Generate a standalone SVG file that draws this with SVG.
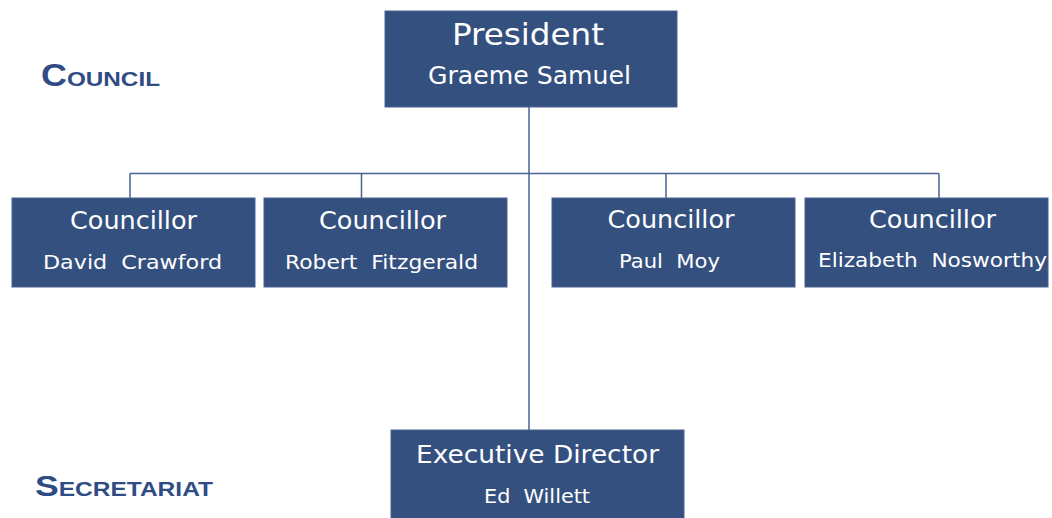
<svg xmlns="http://www.w3.org/2000/svg" width="1052" height="518" viewBox="0 0 1052 518">
<style>
.box{fill:#34507F;stroke:#4A6294;stroke-width:1}
.t{fill:#FFFFFF;font-family:"DejaVu Sans","Liberation Sans",sans-serif;text-anchor:middle}
.big{font-size:24px}
.nm{font-size:19px;white-space:pre}
.lbl{fill:#2F4C85;font-family:"Liberation Sans",Arial,sans-serif;font-weight:bold}
.ln{stroke:#4A6294;stroke-width:1.5;fill:none}
</style>
<rect width="1052" height="518" fill="#FFFFFF"/>
<g id="labels">
<text class="lbl" x="41" y="86" font-size="21" textLength="119" lengthAdjust="spacingAndGlyphs"><tspan font-size="31">C</tspan>OUNCIL</text>
<text class="lbl" x="35" y="496" font-size="20" textLength="178" lengthAdjust="spacingAndGlyphs"><tspan font-size="29">S</tspan>ECRETARIAT</text>
</g>
<g id="connectors">
<path class="ln" d="M529,107 V430"/>
<path class="ln" d="M130,173.5 H939"/>
<path class="ln" d="M130,173.5 V198 M361.5,173.5 V198 M666,173.5 V198 M939,173.5 V198"/>
</g>
<g id="president">
<rect class="box" x="385" y="11" width="292" height="96"/>
<text class="t" x="528" y="45" font-size="31" textLength="152" lengthAdjust="spacingAndGlyphs">President</text>
<text class="t big" x="529.5" y="84" textLength="203" lengthAdjust="spacingAndGlyphs">Graeme Samuel</text>
</g>
<g id="c1">
<rect class="box" x="12" y="198" width="243" height="89"/>
<text class="t big" x="133.5" y="229" textLength="127" lengthAdjust="spacingAndGlyphs">Councillor</text>
<text class="t nm" xml:space="preserve" x="132.5" y="269" textLength="179" lengthAdjust="spacingAndGlyphs">David  Crawford</text>
</g>
<g id="c2">
<rect class="box" x="264" y="198" width="243" height="89"/>
<text class="t big" x="382.5" y="229" textLength="127" lengthAdjust="spacingAndGlyphs">Councillor</text>
<text class="t nm" xml:space="preserve" x="381.5" y="269" textLength="193" lengthAdjust="spacingAndGlyphs">Robert  Fitzgerald</text>
</g>
<g id="c3">
<rect class="box" x="552" y="198" width="243" height="89"/>
<text class="t big" x="671" y="228" textLength="127" lengthAdjust="spacingAndGlyphs">Councillor</text>
<text class="t nm" xml:space="preserve" x="669.5" y="268" textLength="101" lengthAdjust="spacingAndGlyphs">Paul  Moy</text>
</g>
<g id="c4">
<rect class="box" x="805" y="198" width="243" height="89"/>
<text class="t big" x="932.5" y="228" textLength="127" lengthAdjust="spacingAndGlyphs">Councillor</text>
<text class="t nm" xml:space="preserve" x="932.5" y="267" textLength="229" lengthAdjust="spacingAndGlyphs">Elizabeth  Nosworthy</text>
</g>
<g id="exec">
<rect class="box" x="391" y="430" width="293" height="90"/>
<text class="t big" x="537.5" y="463" textLength="243" lengthAdjust="spacingAndGlyphs">Executive Director</text>
<text class="t nm" xml:space="preserve" x="537" y="503" textLength="106" lengthAdjust="spacingAndGlyphs">Ed  Willett</text>
</g>
</svg>
